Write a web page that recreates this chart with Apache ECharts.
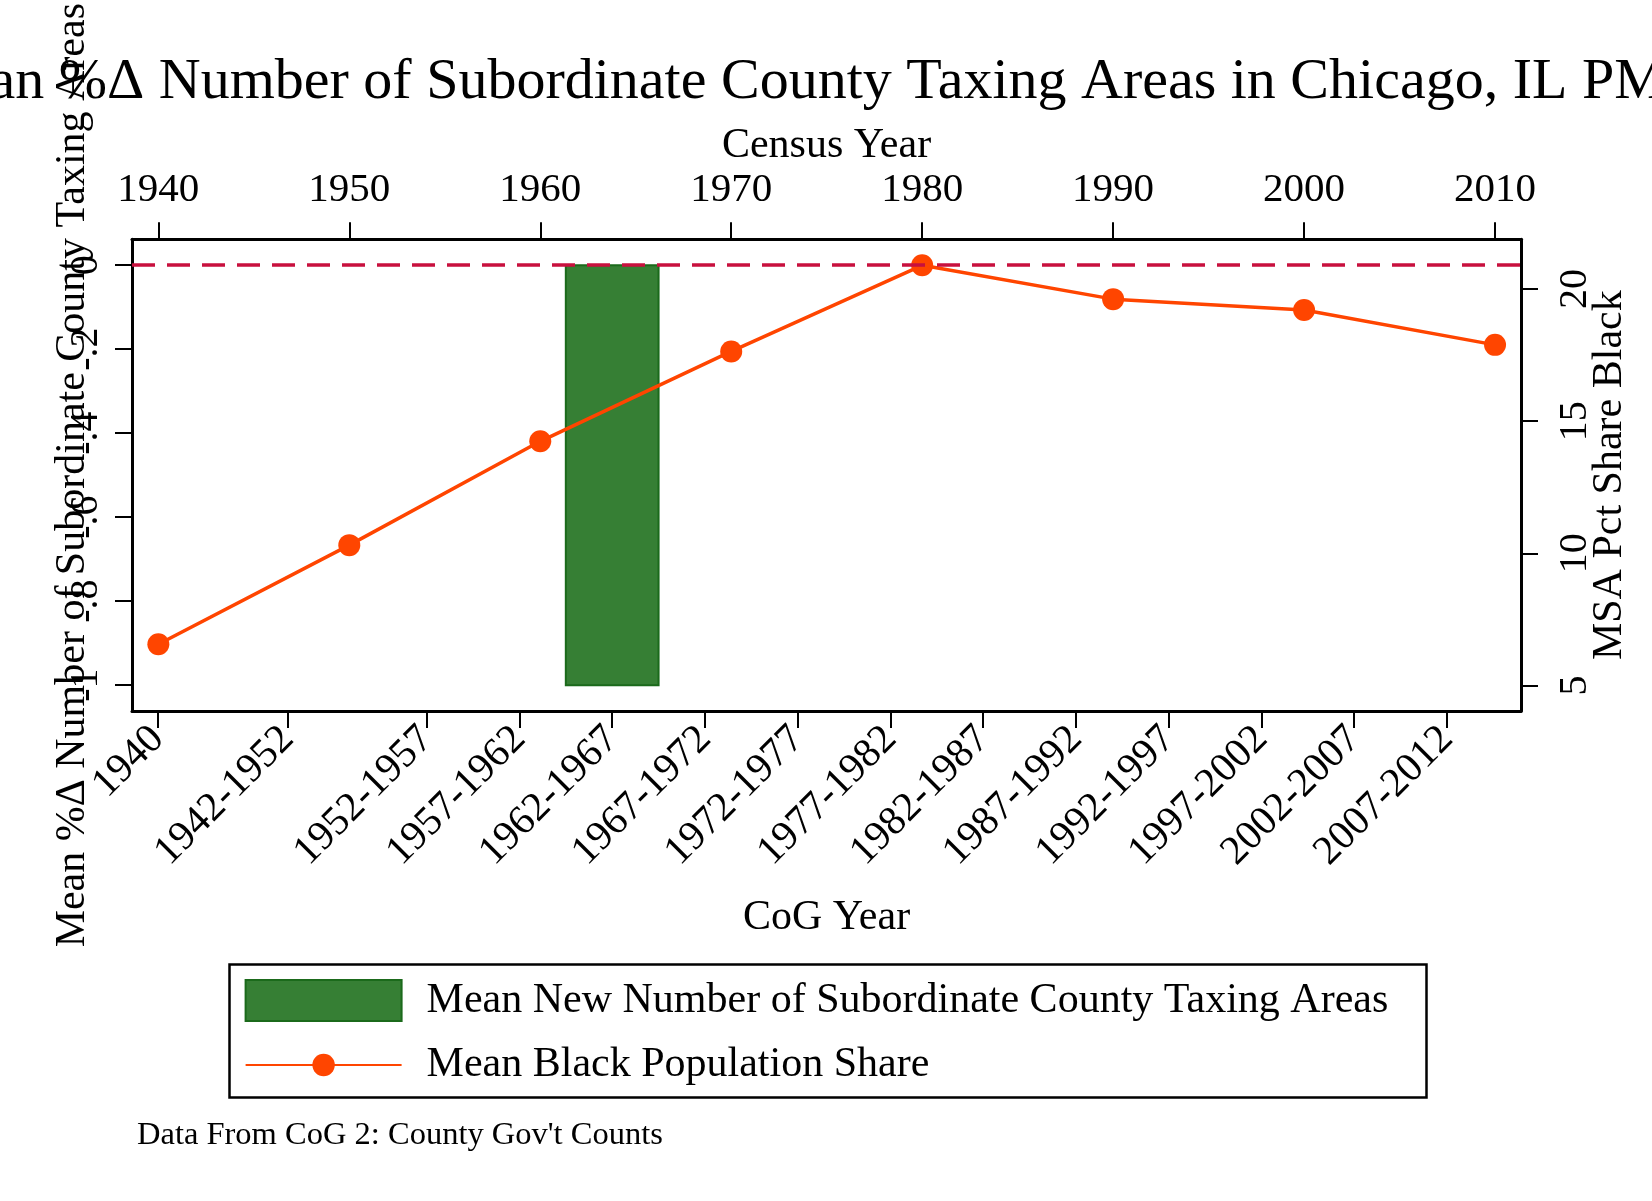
<!DOCTYPE html>
<html><head><meta charset="utf-8">
<script src="https://cdn.jsdelivr.net/npm/echarts@6/dist/echarts.min.js"></script>
<style>html,body{margin:0;padding:0;background:#fff}#c{width:1652px;height:1201px}</style>
</head><body><div id="c"></div>
<script>
const titleText = 'Mean %Δ Number of Subordinate County Taxing Areas in Chicago, IL PMSA';
const footText = "Data From CoG 2: County Gov't Counts";
const barName = 'Mean New Number of Subordinate County Taxing Areas';
const lineName = 'Mean Black Population Share';
const leftAxisName = 'Mean %Δ Number of Subordinate County Taxing Areas';
const rightAxisName = 'MSA Pct Share Black';
const topAxisName = 'Census Year';
const bottomAxisName = 'CoG Year';

// Census (top axis) line series
const censusYears = [1940, 1950, 1960, 1970, 1980, 1990, 2000, 2010];
const blackShare = [6.56, 10.31, 14.24, 17.64, 20.9, 19.62, 19.21, 17.89];

// CoG (bottom axis) bars: start year, end year, value
const barStart = [1962];
const barEnd = [1967];
const barValues = [-1];

// Tick values and labels
const cogTickValues = [1940, 1947, 1954.5, 1959.5, 1964.5, 1969.5, 1974.5, 1979.5, 1984.5, 1989.5, 1994.5, 1999.5, 2004.5, 2009.5];
const cogTickLabels = ['1940', '1942-1952', '1952-1957', '1957-1962', '1962-1967', '1967-1972', '1972-1977', '1977-1982', '1982-1987', '1987-1992', '1992-1997', '1997-2002', '2002-2007', '2007-2012'];
const censusTicks = [1940, 1950, 1960, 1970, 1980, 1990, 2000, 2010];
const leftTicks = [-1, -0.8, -0.6, -0.4, -0.2, 0];
const rightTicks = [5, 10, 15, 20];
const refLineValue = 0;

const FONT = "'Liberation Serif', 'Times New Roman', serif";
const BLACK = '#000';
const GREEN = '#367f34';
const GREEN_BORDER = '#1b6a1b';
const ORANGE = '#ff4500';
const CRIMSON = '#c8103e';

const barData = barStart.map((s, i) => [s, barEnd[i], barValues[i]]);
const lineData = censusYears.map((y, i) => [y, blackShare[i]]);

function stataNum(v) {
  if (v === 0) return '0';
  let s = String(Math.round(v * 1000) / 1000);
  return s.replace(/^(-?)0\./, '$1.');
}

const axisLineStyle = { show: true, onZero: false, lineStyle: { color: BLACK, width: 3 } };
const tickStyle = { lineStyle: { color: BLACK, width: 2 }, length: 17, inside: false };

const chart = echarts.init(document.getElementById('c'), null, { renderer: 'canvas' });
chart.setOption({
  backgroundColor: '#fff',
  animation: false,
  title: [
    { text: titleText, left: 'center', top: 49,
      textStyle: { fontFamily: FONT, fontSize: 58, fontWeight: 'normal', color: BLACK } },
    { text: footText, left: 132, top: 1114,
      textStyle: { fontFamily: FONT, fontSize: 32.5, fontWeight: 'normal', color: BLACK } }
  ],
  grid: { left: 132, right: 131, top: 237, bottom: 490, containLabel: false },
  xAxis: [
    { type: 'value', position: 'bottom', min: 1938.615, max: 2013.49,
      name: bottomAxisName, nameLocation: 'middle', nameGap: 186, nameMoveOverlap: false,
      nameTextStyle: { fontFamily: FONT, fontSize: 42, color: BLACK },
      axisLine: axisLineStyle,
      axisTick: Object.assign({ customValues: cogTickValues }, tickStyle),
      axisLabel: { customValues: cogTickValues, rotate: 45, margin: 22, fontFamily: FONT, fontSize: 41, color: BLACK,
        formatter: v => { const i = cogTickValues.findIndex(t => Math.abs(t - v) < 1e-6); return i >= 0 ? cogTickLabels[i] : ''; } },
      splitLine: { show: false } },
    { type: 'value', position: 'top', min: 1938.62, max: 2011.36,
      name: topAxisName, nameLocation: 'middle', nameGap: 72, nameMoveOverlap: false,
      nameTextStyle: { fontFamily: FONT, fontSize: 42, color: BLACK },
      axisLine: axisLineStyle,
      axisTick: Object.assign({ customValues: censusTicks }, tickStyle),
      axisLabel: { customValues: censusTicks, margin: 29, fontFamily: FONT, fontSize: 41, color: BLACK,
        formatter: v => String(v) },
      splitLine: { show: false } }
  ],
  yAxis: [
    { type: 'value', position: 'left', min: -1.0616, max: 0.0616,
      name: leftAxisName, nameLocation: 'middle', nameGap: 38, nameRotate: 90, nameMoveOverlap: false,
      nameTextStyle: { fontFamily: FONT, fontSize: 42, color: BLACK },
      axisLine: axisLineStyle,
      axisTick: Object.assign({ customValues: leftTicks }, tickStyle),
      axisLabel: { customValues: leftTicks, rotate: 90, margin: 26, fontFamily: FONT, fontSize: 40, color: BLACK,
        formatter: stataNum },
      splitLine: { show: false } },
    { type: 'value', position: 'right', min: 4.033, max: 21.882,
      name: rightAxisName, nameLocation: 'middle', nameGap: 68, nameRotate: 90, nameMoveOverlap: false,
      nameTextStyle: { fontFamily: FONT, fontSize: 42, color: BLACK },
      axisLine: axisLineStyle,
      axisTick: Object.assign({ customValues: rightTicks }, tickStyle),
      axisLabel: { customValues: rightTicks, rotate: 90, margin: 34, fontFamily: FONT, fontSize: 40, color: BLACK,
        formatter: v => String(v) },
      splitLine: { show: false } }
  ],
  legend: [
    { show: true, left: 244.6, top: 979, padding: 0, orient: 'vertical',
      itemWidth: 156, itemHeight: 41,
      data: [{ name: barName, icon: 'rect', itemStyle: { color: GREEN, borderColor: GREEN_BORDER, borderWidth: 2 } }],
      textStyle: { fontFamily: FONT, fontSize: 42, color: BLACK, padding: [0, 0, 0, 20] },
      selectedMode: false },
    { show: true, left: 244.6, top: 1044, padding: 0, orient: 'vertical',
      itemWidth: 156, itemHeight: 28,
      data: [{ name: lineName }],
      textStyle: { fontFamily: FONT, fontSize: 42, color: BLACK, padding: [0, 0, 0, 20] },
      selectedMode: false }
  ],
  graphic: [
    { type: 'rect', left: 227, top: 962, z: 100, silent: true,
      shape: { width: 1197, height: 133 },
      style: { fill: 'none', stroke: BLACK, lineWidth: 2.5 } }
  ],
  series: [
    { name: barName, type: 'custom', xAxisIndex: 0, yAxisIndex: 0,
      data: barData, encode: { x: [0, 1], y: 2 },
      itemStyle: { color: GREEN, borderColor: GREEN_BORDER, borderWidth: 2 },
      renderItem: (params, api) => {
        const p0 = api.coord([api.value(0), 0]);
        const p1 = api.coord([api.value(1), api.value(2)]);
        return { type: 'rect',
          shape: { x: p0[0], y: p0[1], width: p1[0] - p0[0], height: p1[1] - p0[1] },
          style: { fill: GREEN, stroke: GREEN_BORDER, lineWidth: 2 } };
      }, z: 2 },
    { name: 'ref', type: 'line', xAxisIndex: 0, yAxisIndex: 0, data: [], z: 5,
      markLine: { silent: true, symbol: ['none', 'none'], label: { show: false },
        lineStyle: { color: CRIMSON, width: 3.5, type: [23, 12] },
        data: [{ yAxis: refLineValue }] } },
    { name: lineName, type: 'line', xAxisIndex: 1, yAxisIndex: 1, data: lineData, z: 4,
      symbol: 'circle', symbolSize: 22, showSymbol: true,
      lineStyle: { color: ORANGE, width: 3.5 },
      itemStyle: { color: ORANGE } }
  ]
});
</script>
</body></html>
